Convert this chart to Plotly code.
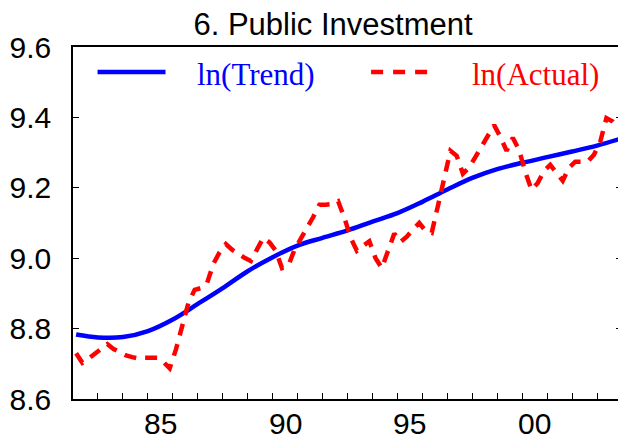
import plotly.graph_objects as go

# ---- data ----
start_year = 1982
n_quarters = 88  # 1982Q1 .. 2003Q4
quarter_pos = [start_year + (k + 0.5) / 4 for k in range(n_quarters)]

actual = [
    8.730, 8.703, 8.715, 8.728, 8.741, 8.756, 8.742, 8.732, 8.724, 8.719,
    8.715, 8.717, 8.718, 8.717, 8.705, 8.687, 8.741, 8.810, 8.873, 8.910,
    8.915, 8.930, 8.984, 9.017, 9.040, 9.024, 9.012, 9.001, 8.992, 9.024,
    9.058, 9.045, 9.021, 8.972, 8.978, 9.024, 9.058, 9.086, 9.117, 9.152,
    9.152, 9.154, 9.162, 9.115, 9.058, 9.021, 9.035, 9.048, 9.000, 8.972,
    9.021, 9.070, 9.046, 9.061, 9.082, 9.100, 9.078, 9.072, 9.149, 9.229,
    9.305, 9.291, 9.240, 9.257, 9.288, 9.319, 9.348, 9.378, 9.345, 9.305,
    9.342, 9.308, 9.245, 9.194, 9.214, 9.248, 9.265, 9.243, 9.220, 9.257,
    9.274, 9.274, 9.274, 9.294, 9.330, 9.398, 9.388, 9.368,
]

trend_pos = [1982.125, 1983, 1984, 1985, 1986, 1987, 1988, 1989, 1990, 1991,
             1992, 1993, 1994, 1995, 1996, 1997, 1998, 1999, 2000, 2001,
             2002, 2003, 2003.875]
trend = [8.783, 8.775, 8.776, 8.793, 8.826, 8.870, 8.915, 8.963, 9.003, 9.036,
         9.058, 9.079, 9.104, 9.128, 9.160, 9.195, 9.228, 9.253, 9.271, 9.287,
         9.303, 9.320, 9.338]

year_ticks = list(range(1983, 2004))
label_years = [1985, 1990, 1995, 2000]
label_text = ["85", "90", "95", "00"]

title_text = "6. Public Investment"
trend_name = "ln(Trend)"
actual_name = "ln(Actual)"

# page body has an 8px margin, so the figure is 8px smaller each way
W, H = 618, 431

# ---- figure ----
fig = go.Figure()
fig.add_trace(go.Scatter(x=trend_pos, y=trend, mode="lines", name=trend_name,
                         line=dict(color="#0000ff", width=4.5, shape="spline"),
                         showlegend=False))
fig.add_trace(go.Scatter(x=quarter_pos, y=actual, mode="lines", name=actual_name,
                         line=dict(color="#ff0000", width=4.5, dash="12px,9px"),
                         showlegend=False))

# year labels centered within each labelled year
for yr, txt in zip(label_years, label_text):
    fig.add_annotation(x=yr + 0.5, xref="x", y=0, yref="paper", yanchor="top",
                       text=txt, showarrow=False, yshift=-6,
                       font=dict(family="Liberation Sans, Arial", size=30, color="black"))

# manual legend
leg_y = 0.929
fig.add_shape(type="line", xref="paper", yref="paper", x0=0.0447, x1=0.1685,
              y0=leg_y, y1=leg_y, line=dict(color="#0000ff", width=4.5))
fig.add_shape(type="line", xref="paper", yref="paper", x0=0.543, x1=0.647,
              y0=leg_y, y1=leg_y, line=dict(color="#ff0000", width=4.5, dash="12px,10px"))
fig.add_annotation(x=0.2228, y=0.922, xref="paper", yref="paper", xanchor="left",
                   yanchor="middle", text=trend_name, showarrow=False,
                   font=dict(family="Liberation Serif, Times New Roman", size=31, color="#0000ff"))
fig.add_annotation(x=0.724, y=0.922, xref="paper", yref="paper", xanchor="left",
                   yanchor="middle", text=actual_name, showarrow=False,
                   font=dict(family="Liberation Serif, Times New Roman", size=31, color="#ff0000"))

fig.update_layout(
    width=W, height=H,
    margin=dict(l=64, r=2, t=39, b=40),
    paper_bgcolor="white", plot_bgcolor="white",
    title=dict(text=title_text, x=325 / W, xref="container", xanchor="center",
               y=1 - 16 / H, yref="container", yanchor="middle",
               font=dict(family="Liberation Sans, Arial", size=31, color="black")),
    font=dict(family="Liberation Sans, Arial", color="black"),
)
fig.update_xaxes(range=[1982, 2004], tickvals=year_ticks, ticks="inside", ticklen=6,
                 tickwidth=1, tickcolor="black", showticklabels=False,
                 showline=True, linecolor="black", linewidth=1.5, mirror=True,
                 showgrid=False, zeroline=False)
fig.update_yaxes(range=[8.6, 9.6], dtick=0.2, tick0=8.6, tickformat=".1f",
                 ticks="inside", ticklen=6, tickwidth=1, tickcolor="black",
                 ticklabelstandoff=14,
                 tickfont=dict(family="Liberation Sans, Arial", size=30, color="black"),
                 showline=True, linecolor="black", linewidth=1.5, mirror="ticks",
                 showgrid=False, zeroline=False)

fig.write_html("out.html")
